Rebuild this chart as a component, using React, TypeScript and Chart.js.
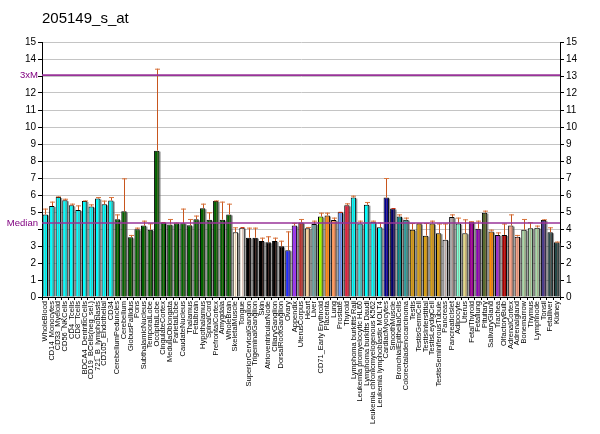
import { useEffect, useRef } from 'react';
import { Chart, registerables } from 'chart.js';
import type { Plugin } from 'chart.js';
import React from 'react';

Chart.register(...registerables);

const TITLE = '205149_s_at';
const MEDIAN = 4.35;
const THREE_X_M = 13.05;

const tissues = [
  'WholeBlood', 'CD14_Monocytes', 'CD33_Myeloid', 'CD56_NKCells', 'CD4_Tcells', 'CD8_Tcells',
  'BDCA4_DentriticCells', 'CD19_BCells(neg_sel.)', '721_B_lymphoblasts', 'CD105_Endothelial', 'CD34',
  'CerebellumPeduncles', 'Cerebellum', 'GlobusPallidus', 'Pons', 'SubthalamicNucleus', 'TemporalLobe',
  'OccipitalLobe', 'CingulateCortex', 'MedullaOblongata', 'ParietalLobe', 'CaudateNucleus', 'Thalamus',
  'Fetalbrain', 'Hypothalamus', 'SpinalCord', 'PrefrontalCortex', 'Amygdala', 'WholeBrain',
  'SkeletalMuscle', 'Tongue', 'SuperiorCervicalGanglion', 'TrigeminalGanglion', 'Skin',
  'AtrioventricularNode', 'CiliaryGanglion', 'DorsalRootGanglion', 'Ovary', 'Appendix', 'UterusCorpus',
  'Heart', 'Liver', 'CD71_Early Erythroid', 'Placenta', 'Lung', 'Prostate', 'Thyroid',
  'Lymphoma burkitts Raji', 'Leukemia promyelocytic HL60', 'Lymphoma burkitts Daudi',
  'Leukemia chronicmyelogenous K562', 'Leukemia lymphoblastic MOLT4', 'CardiacMyocytes', 'SmoothMuscle',
  'BronchialEpithelialCells', 'Colorectaladenocarcinoma', 'Testis', 'TestisGermCell', 'TestisInterstitial',
  'TestisLeydigCell', 'TestisSeminiferousTubule', 'Pancreas', 'PancreaticIslet', 'Adipocyte', 'Uterus',
  'FetalThyroid', 'Fetallung', 'Pituitary', 'SalivaryGland', 'Trachea', 'OlfactoryBulb', 'AdrenalCortex',
  'Adrenalgland', 'Bonemarrow', 'Thymus', 'Lymphnode', 'Tonsil', 'Fetalliver', 'Kidney',
];

const expression = [
  4.86, 5.35, 5.88, 5.69, 5.39, 5.12, 5.65, 5.32, 5.79, 5.45, 5.67,
  4.57, 5.04, 3.51, 3.98, 4.2, 3.96, 8.61, 4.38, 4.26, 4.34, 4.34, 4.22, 4.57, 5.22, 4.55, 5.65, 4.55, 4.86,
  3.81, 4.08, 3.49, 3.49, 3.29, 3.22, 3.29, 2.98, 2.75, 4.2, 4.38,
  4.04, 4.3, 4.73, 4.79, 4.53, 4.98, 5.39,
  5.85, 4.32, 5.43, 4.43, 4.1, 5.85, 5.2,
  4.73, 4.55, 3.96, 4.32, 3.61, 4.32, 3.75, 3.37, 4.71, 4.32, 3.75,
  4.43, 4.02, 4.96, 3.85, 3.65, 3.65, 4.2, 3.55, 3.96, 4.04, 4.08, 4.53, 3.81, 3.22,
];

const upperError = [
  5.2, 5.61, 5.92, 5.78, 5.49, 5.39, 5.68, 5.45, 5.88, 5.67, 5.88,
  4.86, 6.98, 3.65, 4.08, 4.49, 4.33, 13.43, 4.4, 4.59, 4.37, 5.2, 4.59, 4.79, 5.49, 4.98, 5.68, 5.61, 5.49,
  4.1, 4.08, 4.08, 4.08, 3.49, 3.57, 3.49, 3.31, 3.86, 4.36, 4.59,
  4.12, 4.49, 4.96, 4.96, 4.67, 4.98, 5.51,
  5.96, 4.49, 5.59, 4.49, 4.38, 7.0, 5.2,
  4.86, 4.67, 4.35, 4.35, 4.35, 4.49, 4.32, 4.32, 4.86, 4.67, 4.57,
  4.46, 4.49, 5.08, 3.96, 3.8, 4.32, 4.86, 3.65, 4.59, 4.4, 4.2, 4.57, 4.1, 3.26,
];

const barColors = [
  ...Array(11).fill('#00ffff'),
  ...Array(18).fill('#006400'),
  '#fff8e0', '#fffaf2',
  ...Array(6).fill('#000000'),
  '#1f2bff', '#9933ff', '#b8312f', '#f0d09a', '#6aa6a6', '#99ff00', '#ff8c1a', '#ff9a5c', '#6b9bff', '#e0203c',
  '#00ffff', '#30e0e0', '#00ffff', '#00ffff', '#00ffff',
  '#000099', '#00006b', '#008b8b', '#2a9d9d',
  '#d4a017', '#d4a017', '#d4a017', '#d4a017', '#d4a017',
  '#c8c8c8', '#a8a8a8', '#7fffd4', '#e0d888', '#990099', '#8a00b8', '#556b2f', '#ff8c00', '#9932cc',
  '#b00000', '#f4a58a', '#f4a58a', '#a8d8a8', '#a8d8a8', '#a8d8a8', '#483d8b', '#2f4f4f', '#244848',
];

const FONT = '"Liberation Sans", Arial, sans-serif';
const PURPLE = '#993399';

const decorations: Plugin<'bar'> = {
  id: 'decorations',
  beforeDatasetsDraw(chart) {
    const ctx = chart.ctx;
    const meta = chart.getDatasetMeta(0);
    ctx.save();
    ctx.fillStyle = 'rgba(110,110,110,0.7)';
    meta.data.forEach((el: any) => {
      const w = el.width;
      ctx.fillRect(el.x - w / 2 + 1.2, el.y + 1, w, el.base - el.y - 1);
    });
    ctx.restore();
  },
  afterDatasetsDraw(chart) {
    const ctx = chart.ctx;
    const y = chart.scales.y;
    const { left, right } = chart.chartArea;
    const meta = chart.getDatasetMeta(0);
    ctx.save();
    // faint centre stripe running down each bar
    ctx.strokeStyle = 'rgba(170,110,100,0.4)';
    ctx.lineWidth = 1;
    meta.data.forEach((el: any) => {
      ctx.beginPath();
      ctx.moveTo(Math.round(el.x) + 0.5, el.y + 1);
      ctx.lineTo(Math.round(el.x) + 0.5, el.base);
      ctx.stroke();
    });
    // error bars
    meta.data.forEach((el: any, i: number) => {
      const top = y.getPixelForValue(upperError[i]);
      const x = Math.round(el.x) + 0.5;
      if (el.y - top < 0.5) {
        ctx.strokeStyle = '#cc2200';
        ctx.beginPath();
        ctx.moveTo(x - 2, el.y);
        ctx.lineTo(x + 2, el.y);
        ctx.stroke();
        return;
      }
      ctx.strokeStyle = '#c8561e';
      ctx.beginPath();
      ctx.moveTo(x, el.y);
      ctx.lineTo(x, top);
      ctx.stroke();
      ctx.strokeStyle = '#d9743c';
      ctx.beginPath();
      ctx.moveTo(x - 2.5, top + 0.5);
      ctx.lineTo(x + 2.5, top + 0.5);
      ctx.stroke();
    });
    // median and 3xM lines
    ctx.strokeStyle = PURPLE;
    ctx.lineWidth = 1.6;
    [MEDIAN, THREE_X_M].forEach((v) => {
      const py = y.getPixelForValue(v);
      ctx.beginPath();
      ctx.moveTo(left, py);
      ctx.lineTo(right, py);
      ctx.stroke();
    });
    ctx.fillStyle = '#800080';
    ctx.font = `9.5px ${FONT}`;
    ctx.textAlign = 'right';
    ctx.textBaseline = 'middle';
    ctx.fillText('3xM', left - 4, y.getPixelForValue(THREE_X_M));
    ctx.fillText('Median', left - 4, y.getPixelForValue(MEDIAN));
    // title
    ctx.fillStyle = '#000';
    ctx.font = `15px ${FONT}`;
    ctx.textAlign = 'left';
    ctx.textBaseline = 'middle';
    ctx.fillText(TITLE, 42, 19);
    ctx.restore();
  },
};

const yTicks = (hideMarked: boolean) => ({
  stepSize: 1,
  color: '#000',
  padding: 2,
  font: { size: 10, family: FONT },
  callback: (v: any) => (hideMarked && (v === 4 || v === 13) ? '' : String(v)),
});

const App = () => {
  const canvasRef = useRef<HTMLCanvasElement>(null);

  useEffect(() => {
    if (!canvasRef.current) {
      return;
    }
    const chart = new Chart(canvasRef.current, {
      type: 'bar',
      data: {
        labels: tissues,
        datasets: [
          {
            data: expression,
            backgroundColor: barColors,
            borderColor: '#000',
            borderWidth: 1,
            barPercentage: 0.82,
            categoryPercentage: 1,
          },
        ],
      },
      options: {
        animation: false,
        responsive: true,
        maintainAspectRatio: false,
        layout: { padding: { top: 42, left: 0, right: 0, bottom: 0 } },
        plugins: { legend: { display: false }, tooltip: { enabled: false } },
        scales: {
          x: {
            offset: true,
            grid: { display: true, drawOnChartArea: false, drawTicks: true, tickLength: 3, color: '#000' },
            border: { display: true, color: '#000' },
            ticks: {
              autoSkip: false,
              minRotation: 90,
              maxRotation: 90,
              padding: 1,
              color: '#000',
              font: { size: 7.5, family: FONT },
            },
            afterFit: (s: any) => {
              s.height = 137;
            },
          },
          y: {
            position: 'left',
            min: 0,
            max: 15,
            grid: { color: '#c4c4c4', lineWidth: 1, tickLength: 4, tickColor: '#000' },
            border: { display: true, color: '#000' },
            ticks: yTicks(true),
            afterFit: (s: any) => {
              s.width = 42;
            },
          },
          y2: {
            position: 'right',
            min: 0,
            max: 15,
            grid: { drawOnChartArea: false, tickLength: 4, color: '#000' },
            border: { display: true, color: '#000' },
            ticks: yTicks(false),
            afterFit: (s: any) => {
              s.width = 40;
            },
          },
        },
      },
      plugins: [decorations],
    });

    return () => {
      chart.destroy();
    };
  }, []);

  return (
    <div style={{ position: 'absolute', left: 0, top: 0, width: 600, height: 434, background: '#fff' }}>
      <canvas ref={canvasRef} />
    </div>
  );
};

export default App;
